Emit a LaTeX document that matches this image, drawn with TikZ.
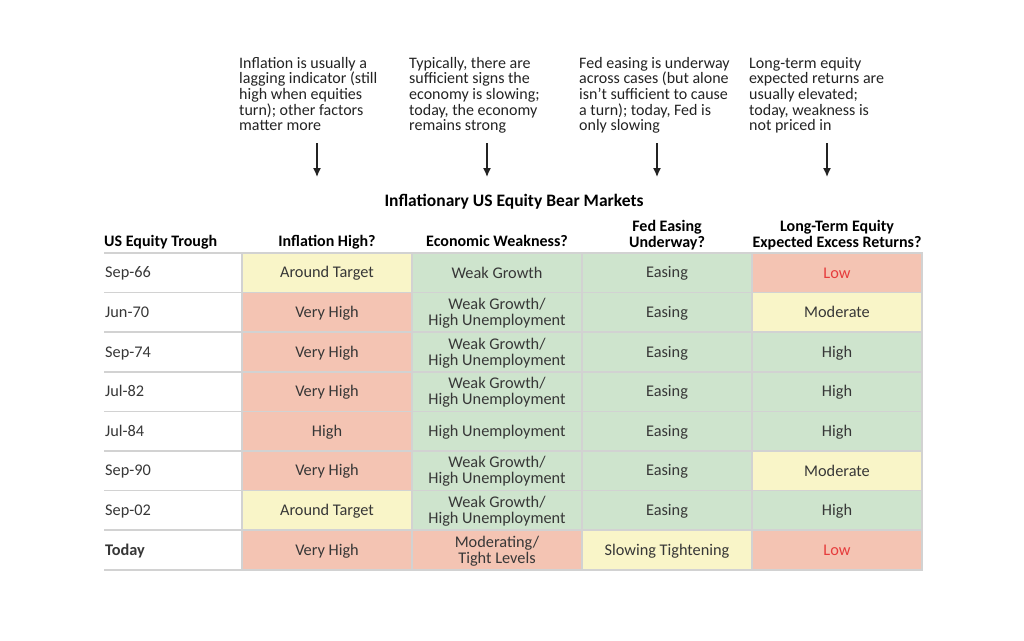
\documentclass[tikz,border=0pt]{standalone}
\usepackage{fontspec}
\setmainfont{Carlito}
\usetikzlibrary{arrows.meta}
\definecolor{cyel}{RGB}{249,245,200}
\definecolor{cred}{RGB}{244,196,179}
\definecolor{cgrn}{RGB}{206,228,205}
\definecolor{cline}{RGB}{210,210,210}
\definecolor{ctxt}{RGB}{55,55,55}
\definecolor{cnote}{RGB}{35,35,35}
\definecolor{clow}{RGB}{230,60,60}
\newcommand{\cst}{\rule[-2.5pt]{0pt}{15.5pt}}
\newcommand{\hst}{\rule[-2.6pt]{0pt}{15.5pt}}
\newcommand{\twol}[2]{\cst#1\\\cst#2}
\newcommand{\onel}[1]{\cst#1}
\newcommand{\cellfont}{\fontsize{16.3}{16}\selectfont\setlength{\lineskiplimit}{-100pt}}
\newcommand{\hdrfont}{\bfseries\fontsize{16}{15.5}\selectfont\setlength{\lineskiplimit}{-100pt}}
\begin{document}
\begin{tikzpicture}[x=1pt,y=-1pt,
  cell/.style={draw=cline,line width=1.5pt,minimum width=170pt,minimum height=39.6pt,inner sep=0pt,align=center,text=ctxt,font=\cellfont},
  yel/.style={cell,fill=cyel},
  red/.style={cell,fill=cred},
  grn/.style={cell,fill=cgrn},
  rowlab/.style={anchor=west,inner sep=0pt,text=ctxt,font=\fontsize{16.3}{16}\selectfont},
  hdr/.style={inner sep=0pt,align=center,text=black,font=\hdrfont},
  note/.style={anchor=north west,inner sep=0pt,align=left,text=cnote,font=\fontsize{16}{15.6}\selectfont},
  arr/.style={line width=1.4pt,-{Latex[length=9pt,width=8pt]},cnote},
  sep/.style={draw=cline,line width=1.6pt}]
\useasboundingbox[fill=white] (0,0) rectangle (1024,640);
% annotations
\node[note] (n1) at (239,57) {Inflation is usually a\\lagging indicator (still\\high when equities\\turn); other factors\\matter more};
\node[note] (n2) at (409,57) {Typically, there are\\sufficient signs the\\economy is slowing;\\today, the economy\\remains strong};
\node[note] (n3) at (579,57) {Fed easing is underway\\across cases (but alone\\isn't sufficient to cause\\a turn); today, Fed is\\only slowing};
\node[note] (n4) at (749,57) {Long-term equity\\expected returns are\\usually elevated;\\today, weakness is\\not priced in};
\foreach \i/\x in {1/317,2/487,3/657,4/827}{
  \coordinate (s\i) at (\x,143);
  \coordinate (e\i) at (\x,177);
  \draw[arr] (s\i) -- (e\i);
}
% title
\node[hdr,font=\bfseries\fontsize{17.5}{17}\selectfont] (title) at (514,201.5) {\rule[-2.8pt]{0pt}{14pt}Inflationary US Equity Bear Markets};
% headers
\node[hdr,anchor=west] (h1) at (104,241) {\hst US Equity Trough};
\node[hdr] (h2) at (327,241) {\hst Inflation High?};
\node[hdr] (h3) at (497,241) {\hst Economic Weakness?};
\node[hdr] (h4) at (667,234.5) {\hst Fed Easing\\\hst Underway?};
\node[hdr] (h5) at (837,234.5) {\hst Long-Term Equity\\\hst Expected Excess Returns?};
% rows
\def\rh{39.6}
\foreach \r/\lab/\a/\ca/\b/\cb/\c/\cc/\d/\cd in {
 1/Sep-66/yel/{\onel{Around Target}}/grn/{\onel{Weak Growth}}/grn/{\onel{Easing}}/red/{\onel{\textcolor{clow}{Low}}},
 2/Jun-70/red/{\onel{Very High}}/grn/{\twol{Weak Growth/}{High Unemployment}}/grn/{\onel{Easing}}/yel/{\onel{Moderate}},
 3/Sep-74/red/{\onel{Very High}}/grn/{\twol{Weak Growth/}{High Unemployment}}/grn/{\onel{Easing}}/grn/{\onel{High}},
 4/Jul-82/red/{\onel{Very High}}/grn/{\twol{Weak Growth/}{High Unemployment}}/grn/{\onel{Easing}}/grn/{\onel{High}},
 5/Jul-84/red/{\onel{High}}/grn/{\onel{High Unemployment}}/grn/{\onel{Easing}}/grn/{\onel{High}},
 6/Sep-90/red/{\onel{Very High}}/grn/{\twol{Weak Growth/}{High Unemployment}}/grn/{\onel{Easing}}/yel/{\onel{Moderate}},
 7/Sep-02/yel/{\onel{Around Target}}/grn/{\twol{Weak Growth/}{High Unemployment}}/grn/{\onel{Easing}}/grn/{\onel{High}},
 8/{\textbf{Today}}/red/{\onel{Very High}}/red/{\twol{Moderating/}{Tight Levels}}/yel/{\onel{Slowing Tightening}}/red/{\onel{\textcolor{clow}{Low}}}}{
  \pgfmathsetmacro{\yc}{253+(\r-0.5)*\rh}
  \node[rowlab] (l\r) at (105,\yc) {\cst\lab};
  \node[\a] (c\r a) at (327,\yc) {\ca};
  \node[\b] (c\r b) at (497,\yc) {\cb};
  \node[\c] (c\r c) at (667,\yc) {\cc};
  \node[\d] (c\r d) at (837,\yc) {\cd};
}
% horizontal separators
\foreach \r in {0,...,8}{
  \pgfmathsetmacro{\yy}{253+\r*\rh}
  \coordinate (ls\r) at (104,\yy);
  \coordinate (rs\r) at (922,\yy);
  \draw[sep] (ls\r) -- (rs\r);
}
\end{tikzpicture}
\end{document}
